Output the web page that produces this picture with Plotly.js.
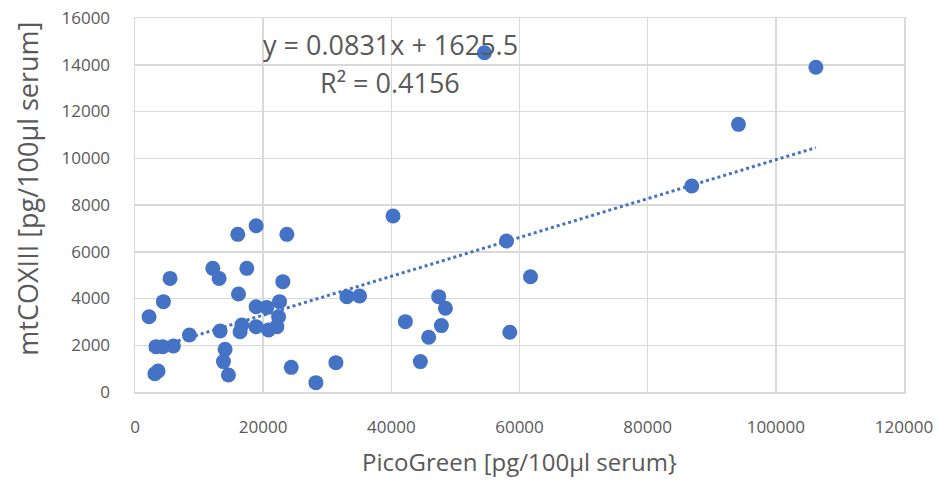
<!DOCTYPE html>
<html>
<head>
<meta charset="utf-8">
<script src="https://cdn.plot.ly/plotly-3.0.1.min.js"></script>
<style>html,body{margin:0;padding:0;background:#fff;}#chart{width:945px;height:487px;}</style>
</head>
<body>
<div id="chart"></div>
<script>
// PicoGreen [pg/100µl serum]
const picoGreen = [40260,16040,18900,23700,12140,13125,17450,5470,4430,2190,16150,23070,18900,20570,22550,22400,18900,20830,22140,16670,16400,13280,8490,3280,4330,5990,14060,13800,14580,3100,3600,24380,28230,31350,33070,35050,42190,57970,61720,47390,48440,47810,45830,58490,44530,54530,106250,94170,86880];
// mtCOXIII [pg/100µl serum]
const mtCOXIII = [7530,6745,7115,6745,5290,4860,5290,4860,3865,3220,4190,4720,3650,3620,3865,3220,2795,2650,2795,2865,2580,2610,2440,1940,1940,1970,1825,1300,730,780,900,1055,400,1255,4080,4105,3010,6460,4930,4080,3580,2840,2340,2555,1300,14515,13890,11450,8810];
// Linear trendline as printed on the chart
const trendSlope = 0.0831;
const trendIntercept = 1625.5;
const trendR2 = 0.4156;
const xTicks = [0,20000,40000,60000,80000,100000,120000];
const yTicks = [0,2000,4000,6000,8000,10000,12000,14000,16000];
const xTitle = 'PicoGreen [pg/100µl serum}';
const yTitle = 'mtCOXIII [pg/100µl serum]';

const xMin = Math.min(...picoGreen), xMax = Math.max(...picoGreen);
const trendX = [xMin, xMax];
const trendY = trendX.map(v => trendSlope * v + trendIntercept);

const blue = '#4472C4';
const txt = '#595959';
const grid = '#D9D9D9';
const font = 'Open Sans, Liberation Sans, sans-serif';

const data = [
  {x: trendX, y: trendY, type: 'scatter', mode: 'lines',
   line: {color: blue, width: 3, dash: 'dot'}, hoverinfo: 'skip', showlegend: false},
  {x: picoGreen, y: mtCOXIII, type: 'scatter', mode: 'markers',
   marker: {color: blue, size: 15}, showlegend: false}
];

const layout = {
  width: 945, height: 487,
  margin: {l: 135, r: 41, t: 18, b: 95},
  paper_bgcolor: '#fff', plot_bgcolor: '#fff',
  font: {family: font, color: txt, size: 17},
  showlegend: false,
  xaxis: {
    range: [0, 120000], tickvals: xTicks, ticktext: xTicks.map(String),
    showgrid: true, gridcolor: grid, gridwidth: 1.5,
    zeroline: false, showline: true, linecolor: grid, linewidth: 1.5, mirror: true,
    ticks: 'outside', ticklen: 19, tickcolor: 'rgba(0,0,0,0)',
    tickfont: {size: 17, color: txt, family: font},
    title: {text: xTitle, font: {size: 24, color: txt, family: font}, standoff: 17}
  },
  yaxis: {
    range: [0, 16000], tickvals: yTicks, ticktext: yTicks.map(String),
    showgrid: true, gridcolor: grid, gridwidth: 1.5,
    zeroline: false, showline: true, linecolor: grid, linewidth: 1.5, mirror: true,
    ticks: 'outside', ticklen: 20, tickcolor: 'rgba(0,0,0,0)',
    tickfont: {size: 17, color: txt, family: font}
  },
  annotations: [
    {x: 0, xref: 'paper', xshift: -107, y: 8700, yref: 'y', showarrow: false,
     textangle: -90, text: yTitle, xanchor: 'center', yanchor: 'middle',
     font: {size: 27, color: txt, family: font}},
    {x: 39840, y: 14850, xref: 'x', yref: 'y', showarrow: false,
     text: 'y = ' + trendSlope + 'x + ' + trendIntercept.toFixed(1),
     font: {size: 27, color: txt, family: font}},
    {x: 39840, y: 13250, xref: 'x', yref: 'y', showarrow: false,
     text: 'R² = ' + trendR2,
     font: {size: 27, color: txt, family: font}}
  ]
};

Plotly.newPlot('chart', data, layout, {displayModeBar: false, staticPlot: true});
</script>
</body>
</html>
